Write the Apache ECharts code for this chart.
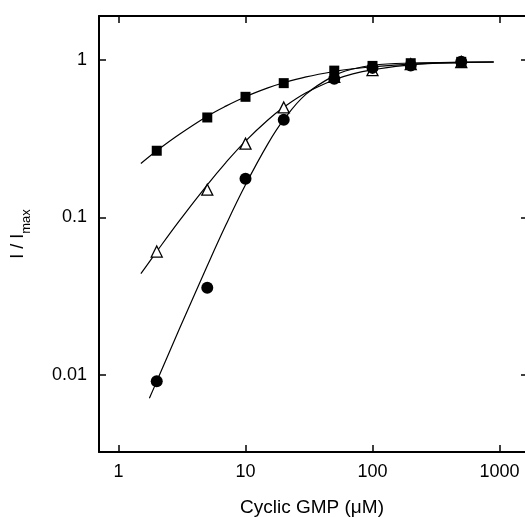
<!DOCTYPE html>
<html>
<head>
<meta charset="utf-8">
<script src="https://cdn.jsdelivr.net/npm/echarts@6/dist/echarts.min.js"></script>
<style>html,body{margin:0;padding:0;background:#fff}#c{width:525px;height:517px}</style>
</head>
<body>
<div id="c"></div>
<script>
// tick labels
var xTicks = [1, 10, 100, 1000];
var yTicks = [0.01, 0.1, 1];

// measured points [cGMP (uM), I/Imax]
var squares = [[2,0.265],[5,0.431],[10,0.583],[20,0.712],[50,0.855],[100,0.916],[200,0.953],[500,0.972]];
var triangles = [[2,0.0607],[5,0.150],[10,0.294],[20,0.499],[50,0.78],[100,0.86],[200,0.94],[500,0.97]];
var circles = [[2,0.0091],[5,0.0357],[10,0.176],[20,0.417],[50,0.758],[100,0.89],[200,0.92],[500,0.975]];

// fitted curves
var squareCurve = [[1.5,0.220],[2,0.265],[3,0.336],[5,0.439],[7,0.509],[10,0.584],[15,0.664],[20,0.716],[30,0.780],[50,0.845],[70,0.879],[100,0.905],[200,0.94],[500,0.965],[900,0.97]];
var triangleCurve = [[1.5,0.0439],[2,0.0607],[3,0.0947],[5,0.161],[7,0.223],[10,0.305],[15,0.415],[20,0.5],[30,0.618],[50,0.748],[70,0.816],[100,0.865],[200,0.93],[500,0.962],[900,0.97]];
var circleCurve = [[1.75,0.0071],[2,0.0091],[3,0.0194],[5,0.0493],[7,0.0894],[10,0.161],[15,0.293],[20,0.417],[30,0.606],[50,0.795],[70,0.875],[100,0.925],[200,0.955],[500,0.968],[900,0.97]];

var font = 'Liberation Sans, Arial, sans-serif';
var black = '#000';
var xMin = 0.702, xMax = 1588, yMin = 0.00324, yMax = 1.90;

function xAx(pos, showLabel) {
  return {
    type: 'log', logBase: 10, position: pos, min: xMin, max: xMax,
    axisLine: {show: true, onZero: false, lineStyle: {color: black, width: 2}},
    axisTick: {show: true, inside: true, length: 7, lineStyle: {color: black, width: 1.5}, customValues: xTicks},
    axisLabel: {show: showLabel, customValues: xTicks, color: black, fontSize: 18, fontFamily: font, margin: 11,
      formatter: function(v){ return String(Math.round(v)); }},
    splitLine: {show: false}, minorTick: {show: false}
  };
}
function yAx(pos, showLabel, showLine, tickLen) {
  return {
    type: 'log', logBase: 10, position: pos, min: yMin, max: yMax,
    axisLine: {show: showLine, onZero: false, lineStyle: {color: black, width: 2}},
    axisTick: {show: true, inside: true, length: tickLen, lineStyle: {color: black, width: 1.5}, customValues: yTicks},
    axisLabel: {show: showLabel, customValues: yTicks, color: black, fontSize: 18, fontFamily: font, margin: 12,
      formatter: function(v){ return v >= 1 ? '1' : (v >= 0.1 ? '0.1' : '0.01'); }},
    splitLine: {show: false}, minorTick: {show: false}
  };
}

var xa0 = xAx('bottom', true);
xa0.name = 'Cyclic GMP (\u03bcM)';
xa0.nameLocation = 'middle';
xa0.nameGap = 46;
xa0.nameTextStyle = {color: black, fontSize: 19, fontFamily: font};

var ya0 = yAx('left', true, true, 7);
ya0.name = '{a|I / I}{b|max}';
ya0.nameLocation = 'middle';
ya0.nameRotate = 90;
ya0.nameGap = 66;
ya0.nameTextStyle = {color: black, fontFamily: font,
  rich: {a: {fontSize: 18, fontFamily: font, color: black, lineHeight: 24, verticalAlign: 'top'},
         b: {fontSize: 13, fontFamily: font, color: black, lineHeight: 24, verticalAlign: 'bottom', padding: [12,0,0,0]}}};

function lineSeries(d) {
  return {type: 'line', data: d, smooth: 0.4, showSymbol: false, symbol: 'none', silent: true,
    lineStyle: {color: black, width: 1.2}, z: 2, xAxisIndex: 0, yAxisIndex: 0};
}

var chart = echarts.init(document.getElementById('c'), null, {renderer: 'canvas'});
chart.setOption({
  animation: false,
  backgroundColor: '#fff',
  grid: {left: 99, right: 0, top: 16, bottom: 65, containLabel: false, outerBoundsMode: 'none'},
  xAxis: [xa0, xAx('top', false)],
  yAxis: [ya0, yAx('right', false, false, 4)],
  series: [
    lineSeries(squareCurve),
    lineSeries(triangleCurve),
    lineSeries(circleCurve),
    {type: 'scatter', data: triangles, symbol: 'triangle', symbolSize: 11,
      itemStyle: {color: '#fff', borderColor: black, borderWidth: 1.3, opacity: 1}, z: 3},
    {type: 'scatter', data: circles, symbol: 'circle', symbolSize: 12,
      itemStyle: {color: black, opacity: 1}, z: 4},
    {type: 'scatter', data: squares, symbol: 'rect', symbolSize: 10,
      itemStyle: {color: black, opacity: 1}, z: 5}
  ]
});
</script>
</body>
</html>
